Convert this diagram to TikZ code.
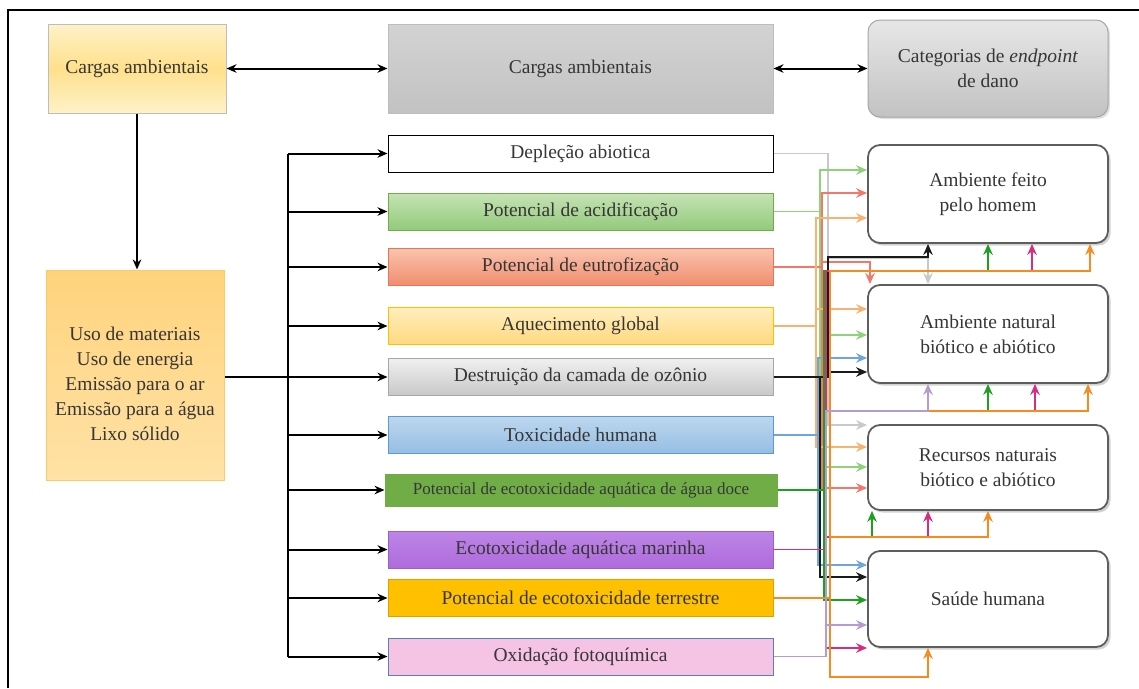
\documentclass[tikz,border=0pt]{standalone}
\usepackage{fontspec}
\setmainfont{Liberation Serif}
\usetikzlibrary{arrows.meta,positioning,calc,shadows}
\definecolor{lcink}{HTML}{363636}
\definecolor{lcdark}{HTML}{5E5E5E}
\definecolor{lcedge}{HTML}{BDBDBD}
\definecolor{lcyellow}{HTML}{FFE08C}
\definecolor{lcyellowlt}{HTML}{FFF2C8}
\definecolor{lcorange}{HTML}{FFD37C}
\definecolor{lcorangelt}{HTML}{FFE2A6}
\definecolor{lcorangeedge}{HTML}{FFC96A}
\definecolor{lcgray}{HTML}{C2C2C2}
\definecolor{lcgraylt}{HTML}{D3D3D3}
% impact boxes
\definecolor{lcacidlt}{HTML}{C6E3B5}
\definecolor{lcacid}{HTML}{93CA7C}
\definecolor{lcacidedge}{HTML}{70AD47}
\definecolor{lceutrolt}{HTML}{F9C4AE}
\definecolor{lceutro}{HTML}{F08D6E}
\definecolor{lceutroedge}{HTML}{E9745A}
\definecolor{lcaqueclt}{HTML}{FFEEBC}
\definecolor{lcaquec}{HTML}{FFD97F}
\definecolor{lcaquecedge}{HTML}{FFC000}
\definecolor{lcdestrlt}{HTML}{F0F0F0}
\definecolor{lcdestr}{HTML}{C8C8C8}
\definecolor{lcdestredge}{HTML}{A6A6A6}
\definecolor{lctoxlt}{HTML}{BDD7EE}
\definecolor{lctox}{HTML}{95BEE3}
\definecolor{lctoxedge}{HTML}{5B9BD5}
\definecolor{lcfresh}{HTML}{70AD47}
\definecolor{lcmarinelt}{HTML}{BD85E6}
\definecolor{lcmarine}{HTML}{AE6BDC}
\definecolor{lcmarineedge}{HTML}{9A5FC8}
\definecolor{lcterr}{HTML}{FFC000}
\definecolor{lcterredge}{HTML}{E0A000}
\definecolor{lcoxid}{HTML}{F5C3E3}
\definecolor{lcoxidedge}{HTML}{5A7FB0}
% connector colours
\definecolor{lcgrayln}{HTML}{C9C9C9}
\definecolor{lcacidln}{HTML}{8ED27B}
\definecolor{lceutroln}{HTML}{F4776B}
\definecolor{lcaquecln}{HTML}{F9B370}
\definecolor{lcblackln}{HTML}{1A1A1A}
\definecolor{lctoxln}{HTML}{6FA6DA}
\definecolor{lcfreshln}{HTML}{1EA01E}
\definecolor{lcmarineln}{HTML}{D52E7E}
\definecolor{lcterrln}{HTML}{F78B1F}
\definecolor{lcoxidln}{HTML}{B59CCD}
\tikzset{
  topBox/.style={draw=lcedge, line width=1pt, minimum height=89pt, align=center, inner sep=2pt, font=\fontsize{19.5}{25}\selectfont, text=lcink},
  impactBox/.style={draw=#1, line width=1pt, minimum width=385pt, minimum height=37pt, align=center, inner sep=1pt, font=\fontsize{19.5}{22}\selectfont, text=lcink},
  endBox/.style={draw=lcdark, line width=1.8pt, fill=white, rounded corners=12pt, minimum width=240pt, align=center, font=\fontsize{19.5}{25}\selectfont, text=lcink, drop shadow={shadow xshift=2.5pt, shadow yshift=-2.5pt, fill=black!35}},
  blackArrow/.style={-{Stealth[length=10pt,width=8.5pt]}, line width=2pt, draw=black},
  dblArrow/.style={{Stealth[length=10pt,width=8.5pt]}-{Stealth[length=10pt,width=8.5pt]}, line width=2pt, draw=black},
  trunkLine/.style={line width=2pt, draw=black},
  colLine/.style={-{Stealth[length=11pt,width=9.5pt]}, line width=1.9pt, draw=#1}
}
\begin{document}
\begin{tikzpicture}[x=1pt,y=-1pt]
  \useasboundingbox (0,0) rectangle (1139,688);
  \draw[line width=2pt] (8,688) -- (8,10) -- (1139,10);

  % top row
  \node[topBox, minimum width=178pt, top color=lcyellowlt, bottom color=lcyellowlt, middle color=lcyellow] (cargasL) at (137,68.5) {Cargas ambientais};
  \node[topBox, minimum width=385pt, top color=lcgraylt, bottom color=lcgray] (cargasM) at (580.5,68.5) {Cargas ambientais};
  \node[topBox, minimum width=240pt, minimum height=97pt, rounded corners=12pt, draw=lcdark!55, top color=lcdestrlt!80!lcgray, bottom color=lcgray, drop shadow={shadow xshift=2pt, shadow yshift=-2pt, fill=black!25}] (categ) at (988,68.5) {Categorias de \textit{endpoint}\\de dano};
  \draw[dblArrow] (cargasL) -- (cargasM);
  \draw[dblArrow] (cargasM) -- (categ);

  % inventory
  \node[topBox, draw=lcorangeedge, minimum width=178pt, minimum height=210pt, top color=lcorange, bottom color=lcorangelt] (inventario) at (135,375) {\rule{0pt}{32pt}Uso de materiais\\Uso de energia\\Emissão para o ar\\Emissão para a água\\Lixo sólido};
  \draw[blackArrow] (cargasL.south) -- (cargasL.south |- inventario.north);

  % impact categories
  \foreach \name/\y/\fa/\fb/\edge/\txt in {
      depl/153.5/white/white/black/{Depleção abiotica},
      acid/211.5/lcacidlt/lcacid/lcacidedge/{Potencial de acidificação},
      eutro/267/lceutrolt/lceutro/lceutroedge/{Potencial de eutrofização},
      aquec/326/lcaqueclt/lcaquec/lcaquecedge/{Aquecimento global},
      destr/377/lcdestrlt/lcdestr/lcdestredge/{Destruição da camada de ozônio},
      toxh/435/lctoxlt/lctox/lctoxedge/{Toxicidade humana},
      marine/549.5/lcmarinelt/lcmarine/lcmarineedge/{Ecotoxicidade aquática marinha},
      terr/598/lcterr/lcterr/lcterredge/{Potencial de ecotoxicidade terrestre},
      oxid/656.5/lcoxid/lcoxid/lcoxidedge/{Oxidação fotoquímica}}
    \node[impactBox=\edge, top color=\fa, bottom color=\fb] (\name) at (580.5,\y) {\txt};
  \node[impactBox=lcfresh, fill=lcfresh, minimum width=392pt, minimum height=32pt, font=\fontsize{17}{20}\selectfont] (fresh) at (581,490) {Potencial de ecotoxicidade aquática de água doce};

  \draw[trunkLine] (depl.west -| 288,0) -- (oxid.west -| 288,0);
  \draw[blackArrow] (inventario.east |- destr.west) -- (destr.west);
  \foreach \n in {depl,acid,eutro,aquec,toxh,fresh,marine,terr,oxid}
    \draw[blackArrow] (\n.west -| 288,0) -- (\n.west);

  % endpoint categories
  \node[endBox, minimum height=98pt] (envA) at (988,194) {Ambiente feito\\pelo homem};
  \node[endBox, minimum height=98pt] (envB) at (988,334) {Ambiente natural\\biótico e abiótico};
  \node[endBox, minimum height=85pt] (envC) at (988,467.5) {Recursos naturais\\biótico e abiótico};
  \node[endBox, minimum height=96pt] (envD) at (988,599) {Saúde humana};

  % links impact -> endpoint
  \draw[colLine=lcgrayln] (depl.east) -| (828,258) -| (envB.north -| 928,0);
  \draw[colLine=lcgrayln] (depl.east) -| (828,425) -- (envC.west |- 0,425);
  \foreach \ty/\tgt in {170/envA,335/envB,467/envC}
    \draw[colLine=lcacidln] (acid.east) -| (820,\ty) -- (\tgt.west |- 0,\ty);
  \foreach \ty/\tgt in {193/envA,488/envC}
    \draw[colLine=lceutroln] (eutro.east) -| (822,\ty) -- (\tgt.west |- 0,\ty);
  \draw[colLine=lceutroln] (eutro.east) -| (822,262) -| (envB.north -| 870,0);
  \foreach \ty/\tgt in {218/envA,309/envB,447/envC}
    \draw[colLine=lcaquecln] (aquec.east) -| (816,\ty) -- (\tgt.west |- 0,\ty);
  \foreach \ty/\tgt in {358/envB,565/envD}
    \draw[colLine=lctoxln] (toxh.east) -| (818,\ty) -- (\tgt.west |- 0,\ty);
  \draw[colLine=lcblackln] (destr.east) -| (828,257) -| (envA.south -| 928,0);
  \draw[colLine=lcblackln] (destr.east) -| (828,372) -- (envB.west |- 0,372);
  \draw[colLine=lcblackln] (destr.east) -| (820,577) -- (envD.west |- 0,577);
  \draw[colLine=lcfreshln] (fresh.east) -| (824,271) -| (envA.south -| 988,0);
  \draw[colLine=lcfreshln] (fresh.east) -| (824,411) -| (envB.south -| 988,0);
  \draw[colLine=lcfreshln] (fresh.east) -| (824,537) -| (envC.south -| 872,0);
  \draw[colLine=lcfreshln] (fresh.east) -| (824,600) -- (envD.west |- 0,600);
  \draw[colLine=lcmarineln] (marine.east) -| (826,271) -| (envA.south -| 1032,0);
  \draw[colLine=lcmarineln] (marine.east) -| (826,411) -| (envB.south -| 1035,0);
  \draw[colLine=lcmarineln] (marine.east) -| (826,537) -| (envC.south -| 928,0);
  \draw[colLine=lcmarineln] (marine.east) -| (826,648) -- (envD.west |- 0,648);
  \draw[colLine=lcterrln] (terr.east) -| (830,271) -| (envA.south -| 1090,0);
  \draw[colLine=lcterrln] (terr.east) -| (830,411) -| (envB.south -| 1088,0);
  \draw[colLine=lcterrln] (terr.east) -| (830,537) -| (envC.south -| 988,0);
  \draw[colLine=lcterrln] (terr.east) -| (830,677) -| (envD.south -| 928,0);
  \draw[colLine=lcoxidln] (oxid.east) -| (826,411) -| (envB.south -| 928,0);
  \draw[colLine=lcoxidln] (oxid.east) -| (826,625) -- (envD.west |- 0,625);
\end{tikzpicture}
\end{document}
